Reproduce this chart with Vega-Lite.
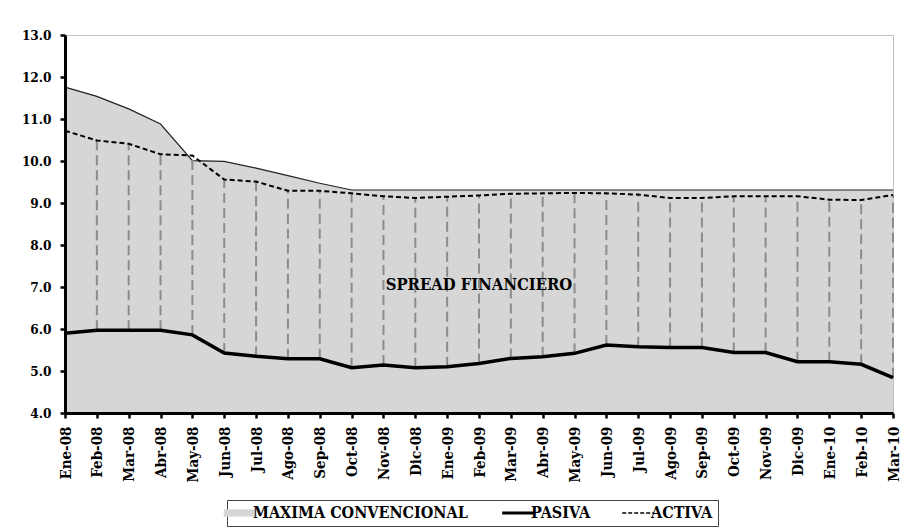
{
  "$schema": "https://vega.github.io/schema/vega-lite/v6.json",
  "width": 828,
  "height": 378,
  "autosize": {"type": "none"},
  "padding": {"left": 65, "top": 35, "right": 17, "bottom": 117},
  "background": "white",
  "config": {
    "view": {"stroke": "#c0c0c0", "strokeWidth": 1},
    "axis": {
      "labelFont": "DejaVu Serif Condensed",
      "labelFontWeight": "bold",
      "labelColor": "black",
      "domainColor": "black",
      "tickColor": "black",
      "grid": false,
      "title": null
    }
  },
  "data": {
    "values": [
      {"mes": "Ene-08", "max": 11.76, "act": 10.72, "pas": 5.90},
      {"mes": "Feb-08", "max": 11.54, "act": 10.49, "pas": 5.97},
      {"mes": "Mar-08", "max": 11.24, "act": 10.41, "pas": 5.97},
      {"mes": "Abr-08", "max": 10.88, "act": 10.16, "pas": 5.97},
      {"mes": "May-08", "max": 10.01, "act": 10.13, "pas": 5.86},
      {"mes": "Jun-08", "max": 9.99, "act": 9.56, "pas": 5.43},
      {"mes": "Jul-08", "max": 9.83, "act": 9.51, "pas": 5.35},
      {"mes": "Ago-08", "max": 9.65, "act": 9.29, "pas": 5.29},
      {"mes": "Sep-08", "max": 9.47, "act": 9.29, "pas": 5.29},
      {"mes": "Oct-08", "max": 9.31, "act": 9.23, "pas": 5.08},
      {"mes": "Nov-08", "max": 9.31, "act": 9.16, "pas": 5.14},
      {"mes": "Dic-08", "max": 9.31, "act": 9.12, "pas": 5.08},
      {"mes": "Ene-09", "max": 9.31, "act": 9.15, "pas": 5.10},
      {"mes": "Feb-09", "max": 9.31, "act": 9.18, "pas": 5.18},
      {"mes": "Mar-09", "max": 9.31, "act": 9.22, "pas": 5.30},
      {"mes": "Abr-09", "max": 9.31, "act": 9.23, "pas": 5.34},
      {"mes": "May-09", "max": 9.31, "act": 9.24, "pas": 5.42},
      {"mes": "Jun-09", "max": 9.31, "act": 9.23, "pas": 5.62},
      {"mes": "Jul-09", "max": 9.31, "act": 9.20, "pas": 5.58},
      {"mes": "Ago-09", "max": 9.31, "act": 9.12, "pas": 5.56},
      {"mes": "Sep-09", "max": 9.31, "act": 9.12, "pas": 5.56},
      {"mes": "Oct-09", "max": 9.31, "act": 9.16, "pas": 5.44},
      {"mes": "Nov-09", "max": 9.31, "act": 9.16, "pas": 5.44},
      {"mes": "Dic-09", "max": 9.31, "act": 9.16, "pas": 5.22},
      {"mes": "Ene-10", "max": 9.31, "act": 9.08, "pas": 5.22},
      {"mes": "Feb-10", "max": 9.31, "act": 9.07, "pas": 5.16},
      {"mes": "Mar-10", "max": 9.31, "act": 9.19, "pas": 4.84}
    ]
  },
  "encoding": {
    "x": {
      "field": "mes",
      "type": "ordinal",
      "sort": ["Ene-08","Feb-08","Mar-08","Abr-08","May-08","Jun-08","Jul-08","Ago-08","Sep-08","Oct-08","Nov-08","Dic-08","Ene-09","Feb-09","Mar-09","Abr-09","May-09","Jun-09","Jul-09","Ago-09","Sep-09","Oct-09","Nov-09","Dic-09","Ene-10","Feb-10","Mar-10"],
      "scale": {"type": "point", "padding": 0},
      "axis": {
        "labelAngle": -90,
        "labelFontSize": 15,
        "labelPadding": 8,
        "domainWidth": 3,
        "tickWidth": 2.5,
        "tickSize": 5,
        "zindex": 2
      }
    }
  },
  "layer": [
    {
      "mark": {"type": "area"},
      "encoding": {
        "y": {
          "field": "max",
          "type": "quantitative",
          "scale": {"domain": [4, 13], "zero": false, "nice": false},
          "axis": {
            "values": [4,5,6,7,8,9,10,11,12,13],
            "format": ".1f",
            "labelFontSize": 13.5,
            "labelPadding": 9,
            "domainWidth": 3,
            "tickWidth": 2.5,
            "tickSize": 5,
            "zindex": 2
          }
        },
        "y2": {"datum": 4},
        "color": {
          "datum": "MAXIMA CONVENCIONAL",
          "type": "nominal",
          "scale": {"domain": ["MAXIMA CONVENCIONAL", "PASIVA", "ACTIVA"], "range": ["#d6d6d6", "black", "black"]},
          "legend": {
            "title": null,
            "orient": "none",
            "direction": "horizontal",
            "legendX": 162,
            "legendY": 465,
            "padding": 5,
            "strokeColor": "#444444",
            "fillColor": "white",
            "labelFont": "DejaVu Serif Condensed",
            "labelFontWeight": "bold",
            "labelFontSize": 16,
            "labelColor": "black",
            "labelLimit": 400,
            "labelOffset": 5,
            "columnPadding": 28,
            "symbolSize": 1000,
            "encode": {
              "symbols": {
                "update": {
                  "shape": {"signal": "datum.value === 'MAXIMA CONVENCIONAL' ? 'M-1,-0.2H1V0.2H-1Z' : 'M-1,0H1'"},
                  "fill": {"signal": "datum.value === 'MAXIMA CONVENCIONAL' ? '#d6d6d6' : 'transparent'"},
                  "stroke": {"signal": "datum.value === 'MAXIMA CONVENCIONAL' ? '#8a8a8a' : 'black'"},
                  "strokeWidth": {"signal": "datum.value === 'MAXIMA CONVENCIONAL' ? 1 : (datum.value === 'PASIVA' ? 3 : 1.5)"},
                  "strokeDash": {"signal": "datum.value === 'ACTIVA' ? [4, 2] : [1, 0]"},
                  "opacity": {"value": 1}
                }
              }
            }
          }
        }
      }
    },
    {
      "mark": {"type": "line", "color": "#222222", "strokeWidth": 1.2},
      "encoding": {
        "y": {"field": "max", "type": "quantitative"}
      }
    },
    {
      "mark": {"type": "rule", "color": "#8c8c8c", "strokeWidth": 2, "strokeDash": [10, 5]},
      "encoding": {
        "y": {"field": "pas", "type": "quantitative"},
        "y2": {"field": "act"}
      }
    },
    {
      "mark": {"type": "line", "strokeWidth": 2, "strokeDash": [5, 3]},
      "encoding": {
        "y": {"field": "act", "type": "quantitative"},
        "color": {"datum": "ACTIVA", "type": "nominal"}
      }
    },
    {
      "mark": {"type": "line", "strokeWidth": 3.5},
      "encoding": {
        "y": {"field": "pas", "type": "quantitative"},
        "color": {"datum": "PASIVA", "type": "nominal"}
      }
    },
    {
      "data": {"values": [{"mes": "Feb-09", "v": 7.05, "t": "SPREAD FINANCIERO"}]},
      "mark": {"type": "text", "font": "DejaVu Serif Condensed", "fontWeight": "bold", "fontSize": 16.5, "color": "black", "align": "center", "baseline": "middle"},
      "encoding": {
        "y": {"field": "v", "type": "quantitative"},
        "text": {"field": "t"}
      }
    }
  ]
}
